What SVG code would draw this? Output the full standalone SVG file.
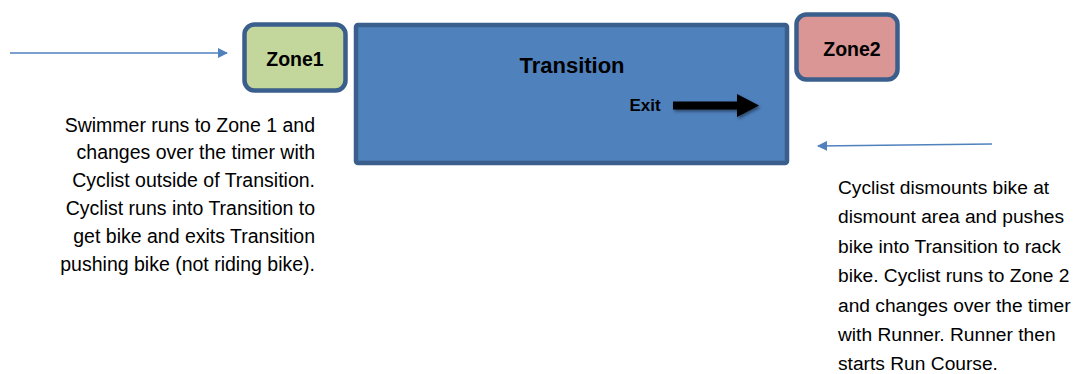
<svg xmlns="http://www.w3.org/2000/svg" width="1076" height="374" viewBox="0 0 1076 374">
<style>
.zone{stroke:#3A5F8C;stroke-width:4.5}
.lbl{font-family:"Liberation Sans",Arial,sans-serif;font-weight:bold;fill:#000}
.body{font-family:"Liberation Sans",Arial,sans-serif;fill:#000}
.conn{stroke:#4F81BD;stroke-width:1.6;fill:none}
</style>
<defs>
<marker id="ah" markerWidth="10" markerHeight="10" refX="9" refY="5" orient="auto" markerUnits="userSpaceOnUse" viewBox="0 0 10 10">
<path d="M0,0 L10,5 L0,10 z" fill="#4F81BD"/>
</marker>
<filter id="sh" x="-20%" y="-50%" width="150%" height="200%">
<feDropShadow dx="1.5" dy="2" stdDeviation="1.5" flood-color="#000" flood-opacity="0.45"/>
</filter>
</defs>
<rect width="1076" height="374" fill="#fff"/>
<g id="connectors">
<line class="conn" x1="10" y1="53" x2="227" y2="53" marker-end="url(#ah)"/>
<line class="conn" x1="992" y1="144" x2="818" y2="146" marker-end="url(#ah)"/>
</g>
<g id="transition">
<rect x="356" y="25" width="431" height="138" rx="2" fill="#4F81BD" class="zone"/>
<text class="lbl" x="572" y="73" font-size="22" text-anchor="middle">Transition</text>
<text class="lbl" x="645" y="111" font-size="17" text-anchor="middle">Exit</text>
<path d="M673,101.5 L737,101.5 L737,94 L759,105.5 L737,117 L737,109.5 L673,109.5 z" fill="#000" filter="url(#sh)"/>
</g>
<g id="zone1">
<rect x="244.5" y="24.5" width="101" height="66" rx="10" fill="#C3D69B" class="zone"/>
<text class="lbl" x="295" y="66" font-size="19.5" text-anchor="middle">Zone1</text>
</g>
<g id="zone2">
<rect x="796.5" y="14.5" width="101" height="65" rx="10" fill="#D99694" class="zone"/>
<text class="lbl" x="852" y="56" font-size="19.5" text-anchor="middle">Zone2</text>
</g>
<g id="note1" class="body" text-anchor="end" font-size="19.5">
<text x="315" y="131.5">Swimmer runs to Zone 1 and</text>
<text x="315" y="159.3">changes over the timer with</text>
<text x="315" y="187.1">Cyclist outside of Transition.</text>
<text x="315" y="214.9">Cyclist runs into Transition to</text>
<text x="315" y="242.7">get bike and exits Transition</text>
<text x="315" y="270.5">pushing bike (not riding bike).</text>
</g>
<g id="note2" class="body" font-size="19.2">
<text x="838" y="194">Cyclist dismounts bike at</text>
<text x="838" y="223.4">dismount area and pushes</text>
<text x="838" y="252.8">bike into Transition to rack</text>
<text x="838" y="282.2">bike. Cyclist runs to Zone 2</text>
<text x="838" y="311.6">and changes over the timer</text>
<text x="838" y="341">with Runner. Runner then</text>
<text x="838" y="369.5">starts Run Course.</text>
</g>
</svg>
